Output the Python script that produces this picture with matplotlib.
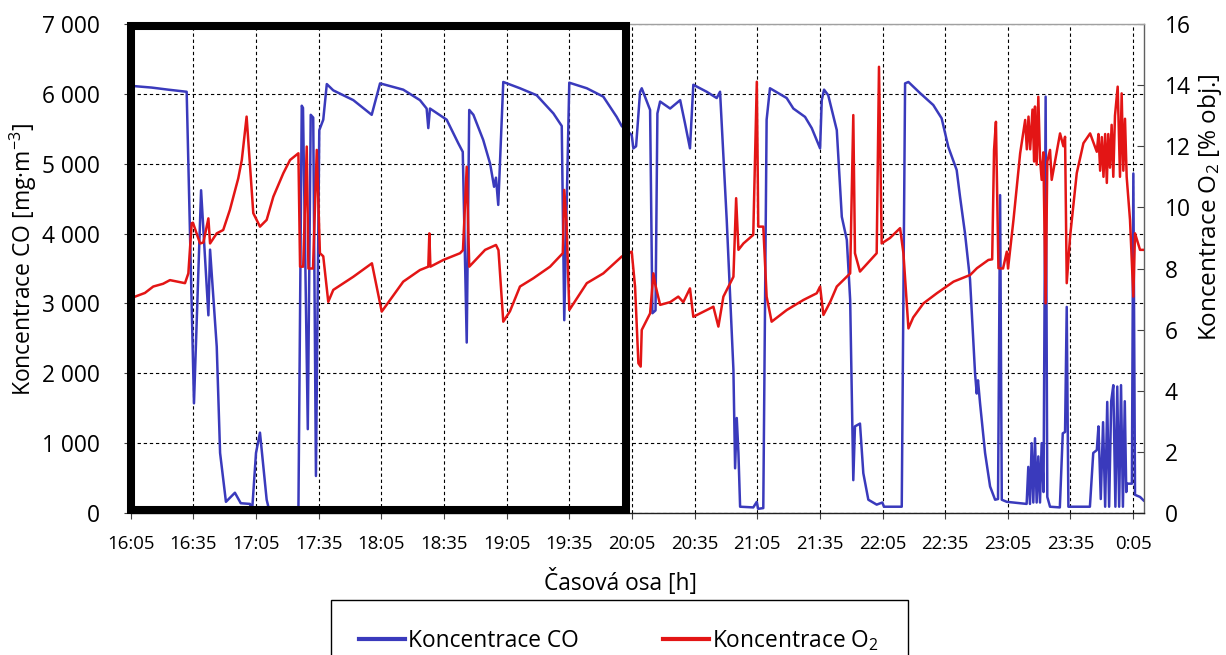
import matplotlib
matplotlib.use("Agg")
import matplotlib.pyplot as plt
from matplotlib.patches import Rectangle
from matplotlib.lines import Line2D

plt.rcParams['font.family'] = ['Open Sans', 'DejaVu Sans']
plt.rcParams['mathtext.fontset'] = 'custom'
plt.rcParams['mathtext.rm'] = 'Open Sans'
plt.rcParams['mathtext.it'] = 'Open Sans:italic'

# ---------------- data (minutes after 16:05) ----------------
TICK_LABELS = ["16:05", "16:35", "17:05", "17:35", "18:05", "18:35", "19:05", "19:35",
               "20:05", "20:35", "21:05", "21:35", "22:05", "22:35", "23:05", "23:35", "0:05"]
CO_TICKS = [0, 1000, 2000, 3000, 4000, 5000, 6000, 7000]
O2_TICKS = [0, 2, 4, 6, 8, 10, 12, 14, 16]

CO_MIN = [2, 10, 18, 26.8, 30.3, 33.7, 37.2, 38.0, 41.2, 42.8,
          45.6, 49.9, 52.7, 57.1, 58.1, 60.0, 61.9, 65.1, 66.4, 80.3,
          81.9, 82.5, 84.8, 86.2, 87.4, 88.7, 90.3, 92.2, 93.9, 97.0,
          106.6, 115.4, 119.4, 130.5, 138.5, 141.7, 142.5, 143.3, 151.3, 156.9,
          159.0, 160.9, 162.1, 164.1, 168.8, 172.1, 174.0, 174.9, 176.0, 177.7,
          178.4, 186.4, 194.4, 202.4, 206.4, 207.6, 210.0, 218.4, 226.3, 232.7,
          235.1, 239.9, 240.7, 242.0, 243.9, 244.7, 248.7, 249.8, 251.3, 252.2,
          253.5, 258.3, 263.1, 265.4, 267.8, 269.4, 275.8, 280.6, 282.2, 285.4,
          288.6, 289.4, 290.2, 291.0, 291.8, 298.1, 299.8, 300.4, 302.9, 304.5,
          306.1, 314.1, 317.3, 322.9, 326.1, 330.1, 330.9, 332.0, 334.0, 338.1,
          340.5, 342.9, 344.5, 346.0, 346.8, 349.2, 350.8, 353.2, 357.2, 359.9,
          360.7, 369.2, 370.8, 372.4, 378.0, 384.3, 388.3, 391.5, 395.5, 397.1,
          399.5, 401.9, 404.3, 405.1, 405.7, 406.7, 409.1, 411.5, 413.9, 415.3,
          416.3, 417.1, 419.5, 429.0, 429.8, 430.6, 431.4, 432.2, 433.0, 433.8,
          434.6, 435.4, 436.2, 437.1, 438.1, 438.9, 440.2, 444.9, 446.3, 447.4,
          448.2, 449.0, 459.3, 460.9, 462.6, 463.4, 464.5, 465.6, 466.6, 467.6,
          468.5, 469.5, 470.5, 471.5, 472.4, 473.3, 474.2, 475.1, 476.0, 476.7,
          477.0, 479.4, 480.1, 480.9, 483.3, 485.0]
CO_MG = [6110, 6090, 6060, 6030, 1570, 4620, 2830, 3770, 2380, 860,
         160, 290, 140, 130, 20, 860, 1150, 190, 30, 10,
         5830, 5800, 1200, 5700, 5660, 530, 5480, 5630, 6140, 6050,
         5910, 5700, 6150, 6060, 5910, 5790, 5510, 5790, 5630, 5290,
         5170, 2440, 5770, 5700, 5340, 5000, 4670, 4800, 4410, 5630,
         6170, 6080, 5980, 5720, 5540, 2760, 6160, 6080, 5960, 5670,
         5540, 5410, 5220, 5250, 6030, 6080, 5770, 2860, 2900, 5720,
         5890, 5790, 5910, 5580, 5220, 6130, 6030, 5940, 6030, 4190,
         2050, 640, 1360, 860, 90, 80, 160, 60, 70, 5630,
         6080, 5940, 5790, 5670, 5510, 5220, 5910, 6060, 5980, 5480,
         4240, 3910, 3050, 470, 1240, 1280, 570, 190, 120, 150,
         90, 90, 6150, 6170, 6010, 5840, 5650, 5240, 4910, 4530,
         4000, 3340, 2000, 1710, 1900, 1570, 860, 380, 190, 200,
         4550, 190, 160, 130, 660, 130, 1000, 150, 1070, 150,
         810, 150, 1000, 300, 5960, 230, 90, 80, 1140, 1160,
         2950, 90, 90, 860, 900, 1240, 200, 1300, 90, 1590,
         90, 1600, 1830, 90, 1810, 90, 1830, 90, 1600, 300,
         420, 420, 4860, 260, 230, 180]

O2_MIN = [2.1, 6.8, 10.8, 15.5, 18.8, 26.0, 27.6, 29.2, 29.8, 33.2,
          34.8, 37.2, 38.0, 41.2, 44.3, 47.5, 51.5, 53.2, 55.5, 58.7,
          61.9, 65.1, 68.3, 73.1, 76.3, 80.3, 81.1, 82.6, 84.3, 85.1,
          87.3, 89.1, 90.6, 92.2, 94.6, 97.0, 106.6, 115.5, 120.2, 124.2,
          130.5, 138.5, 142.5, 143.0, 143.5, 149.7, 157.7, 159.1, 160.9, 162.1,
          169.7, 174.9, 176.1, 178.4, 181.6, 186.4, 192.8, 200.8, 206.9, 207.6,
          208.7, 210.0, 218.4, 226.3, 235.1, 239.9, 241.5, 243.1, 244.2, 244.7,
          248.7, 250.3, 251.1, 253.5, 258.3, 262.2, 264.6, 267.8, 269.4, 275.8,
          279.0, 281.4, 283.8, 288.6, 289.9, 291.0, 293.4, 298.1, 299.8, 300.5,
          302.9, 304.5, 306.9, 314.1, 322.1, 328.5, 330.1, 331.7, 334.9, 338.1,
          344.5, 346.0, 346.8, 349.2, 357.2, 358.3, 359.6, 363.6, 368.4, 370.0,
          372.4, 374.7, 379.6, 386.0, 394.0, 402.0, 405.2, 410.7, 412.5, 413.4,
          414.3, 415.5, 417.7, 419.5, 420.1, 422.7, 425.9, 428.3, 429.1, 429.9,
          430.7, 431.8, 432.6, 433.0, 433.8, 434.6, 435.4, 436.2, 437.0, 438.1,
          438.9, 440.2, 441.0, 445.0, 446.6, 447.4, 448.2, 449.8, 453.0, 456.2,
          459.4, 462.6, 463.4, 464.2, 465.0, 465.8, 466.6, 467.4, 468.1, 468.9,
          469.7, 470.5, 471.3, 472.6, 473.7, 474.5, 475.3, 476.1, 476.9, 478.5,
          480.1, 480.9, 483.3, 485.2]
O2_PCT = [7.08, 7.2, 7.41, 7.5, 7.62, 7.52, 7.84, 9.48, 9.5, 8.82,
          8.85, 9.64, 8.82, 9.15, 9.26, 9.92, 10.95, 11.55, 12.97, 9.81,
          9.37, 9.59, 10.35, 11.12, 11.55, 11.77, 8.06, 8.06, 11.99, 8.0,
          8.0, 11.88, 8.5, 8.4, 6.91, 7.30, 7.73, 8.17, 6.59, 6.97,
          7.57, 7.95, 8.06, 9.15, 8.06, 8.28, 8.5, 8.6, 11.33, 8.06,
          8.61, 8.77, 8.6, 6.26, 6.6, 7.41, 7.68, 8.06, 8.5, 10.57,
          9.5, 6.64, 7.52, 7.84, 8.39, 8.55, 7.41, 4.9, 4.79, 5.99,
          6.53, 7.84, 7.5, 6.81, 6.9, 7.08, 6.9, 7.35, 6.42, 6.64,
          6.75, 6.1, 7.08, 7.73, 10.3, 8.61, 8.82, 9.1, 14.11, 9.37,
          9.37, 7.08, 6.26, 6.64, 6.97, 7.19, 7.41, 6.48, 6.9, 7.41,
          7.84, 13.02, 8.5, 7.9, 8.5, 14.6, 8.82, 9.0, 9.32, 8.5,
          6.04, 6.4, 6.86, 7.19, 7.57, 7.79, 8.01, 8.28, 8.3, 11.88,
          12.8, 8.01, 8.0, 8.55, 8.0, 9.59, 11.77, 12.86, 11.9, 12.97,
          11.9, 13.2, 11.5, 13.3, 11.4, 13.62, 11.6, 10.9, 11.8, 6.86,
          11.5, 11.88, 10.9, 12.42, 12.0, 12.31, 7.52, 9.04, 11.12, 12.1,
          12.42, 11.82, 12.4, 11.2, 12.3, 11.0, 12.4, 10.8, 12.4, 11.3,
          12.7, 11.0, 13.0, 13.95, 11.0, 13.73, 11.2, 12.9, 11.0, 9.59,
          7.08, 9.15, 8.61, 8.61]

# ---------------- figure ----------------
W, H = 1226, 655
BLUE = '#3a3abc'
RED = '#e31515'
fig = plt.figure(figsize=(W / 100, H / 100), dpi=100)
L, R, T, B = 130.7, 1144, 24, 513
ax = fig.add_axes([L / W, 1 - B / H, (R - L) / W, (B - T) / H])
ax2 = ax.twinx()

ax.set_xlim(0, 485.2)
ax.set_ylim(0, 7000)
ax2.set_ylim(0, 16)

ax.set_xticks([30 * i for i in range(len(TICK_LABELS))])
ax.set_xticklabels(TICK_LABELS)
ax.set_yticks(CO_TICKS)
ax.set_yticklabels([f"{v:,}".replace(",", " ") for v in CO_TICKS])
ax2.set_yticks(O2_TICKS)
ax2.set_yticklabels([str(v) for v in O2_TICKS])

ax.grid(True, color='black', linestyle=(0, (3, 2.5)), linewidth=0.8)
ax.set_axisbelow(True)

ax.plot(CO_MIN, CO_MG, color=BLUE, lw=1.8, zorder=3)
ax2.plot(O2_MIN, O2_PCT, color=RED, lw=1.8, zorder=3)

for s in ax.spines.values():
    s.set_visible(False)
ax2.spines['top'].set_color('#a0a0a0')
ax2.spines['right'].set_color('#606060')
ax2.spines['bottom'].set_color('#202020')
ax2.spines['left'].set_visible(False)
for s in ax2.spines.values():
    s.set_linewidth(1.0)

ax.tick_params(axis='x', direction='out', length=4, color='#404040', labelsize=13.4, pad=12)
ax.tick_params(axis='y', direction='out', length=5, color='#404040', labelsize=16.4, pad=17)
ax2.tick_params(axis='y', direction='in', length=5, color='#404040', labelsize=16.4, pad=15)

# highlight frame around the first four hours
ax2.add_patch(Rectangle((0, 50), 237, 6920, transform=ax.transData, fill=False,
                        edgecolor='black', lw=5.8, clip_on=False, zorder=10))

fig.text(23 / W, 1 - 260 / H, 'Koncentrace CO [mg·m$^{-3}$]', rotation=90,
         ha='center', va='center', fontsize=16.5)
fig.text(1210 / W, 1 - 207 / H, r'Koncentrace O$_2$ [% obj.]', rotation=90,
         ha='center', va='center', fontsize=17.5)
fig.text(621 / W, 1 - 583 / H, 'Časová osa [h]', ha='center', va='center', fontsize=16.4)

handles = [Line2D([], [], color=BLUE, lw=3), Line2D([], [], color=RED, lw=3)]
leg = fig.legend(handles, ['Koncentrace CO', 'Koncentrace O$_2$'], ncol=2,
                 loc='upper left', bbox_to_anchor=(331 / W, 1 - 600 / H),
                 frameon=True, fancybox=False, edgecolor='black', framealpha=1,
                 fontsize=16.4, handlelength=2.0, handletextpad=0.15,
                 columnspacing=3.7, borderpad=1.25, borderaxespad=0)
leg.get_frame().set_linewidth(1.0)

fig.savefig('out.png', dpi=100)
